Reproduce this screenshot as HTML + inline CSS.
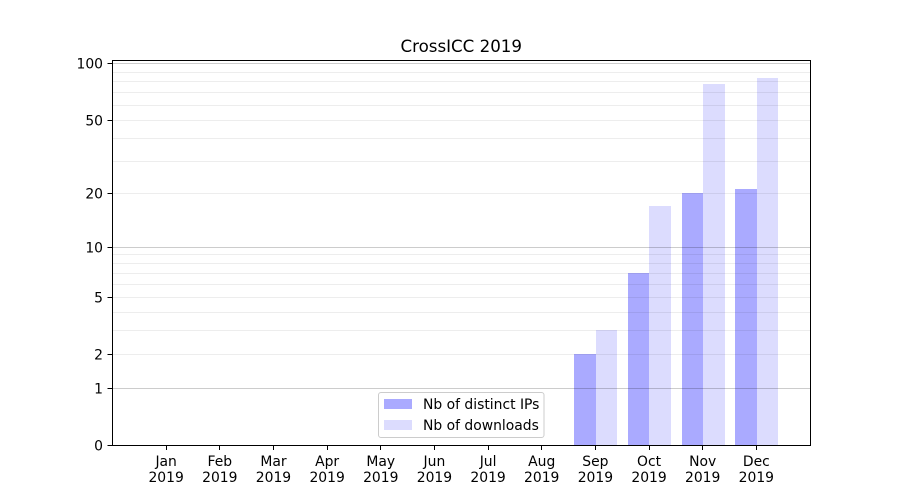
<!DOCTYPE html>
<html><head><meta charset="utf-8"><style>
html,body{margin:0;padding:0;background:#fff;}
svg{display:block;}
text{font-family:"DejaVu Sans","Liberation Sans",sans-serif;fill:#000;}
</style></head><body>
<svg width="900" height="500" viewBox="0 0 900 500" xmlns="http://www.w3.org/2000/svg">
<rect x="0" y="0" width="900" height="500" fill="#fff"/>
<!-- bars -->
<g shape-rendering="crispEdges">
<rect x="574" y="354" width="22" height="91" fill="#aaaaff"/>
<rect x="596" y="330" width="21" height="115" fill="#dcdcfe"/>
<rect x="628" y="273" width="21" height="172" fill="#aaaaff"/>
<rect x="649" y="206" width="22" height="239" fill="#dcdcfe"/>
<rect x="682" y="193" width="21" height="252" fill="#aaaaff"/>
<rect x="703" y="84" width="22" height="361" fill="#dcdcfe"/>
<rect x="735" y="189" width="22" height="256" fill="#aaaaff"/>
<rect x="757" y="78" width="21" height="367" fill="#dcdcfe"/>
</g>
<!-- minor grid -->
<g stroke="#000" stroke-opacity="0.07" stroke-width="1">
<line x1="113" x2="810" y1="354.5" y2="354.5"/>
<line x1="113" x2="810" y1="330.5" y2="330.5"/>
<line x1="113" x2="810" y1="312.5" y2="312.5"/>
<line x1="113" x2="810" y1="297.5" y2="297.5"/>
<line x1="113" x2="810" y1="284.5" y2="284.5"/>
<line x1="113" x2="810" y1="273.5" y2="273.5"/>
<line x1="113" x2="810" y1="263.5" y2="263.5"/>
<line x1="113" x2="810" y1="254.5" y2="254.5"/>
<line x1="113" x2="810" y1="193.5" y2="193.5"/>
<line x1="113" x2="810" y1="161.5" y2="161.5"/>
<line x1="113" x2="810" y1="138.5" y2="138.5"/>
<line x1="113" x2="810" y1="120.5" y2="120.5"/>
<line x1="113" x2="810" y1="105.5" y2="105.5"/>
<line x1="113" x2="810" y1="92.5" y2="92.5"/>
<line x1="113" x2="810" y1="81.5" y2="81.5"/>
<line x1="113" x2="810" y1="72.5" y2="72.5"/>
</g>
<!-- major grid -->
<g stroke="#000" stroke-opacity="0.2" stroke-width="1">
<line x1="113" x2="810" y1="388.5" y2="388.5"/>
<line x1="113" x2="810" y1="247.5" y2="247.5"/>
<line x1="113" x2="810" y1="63.5" y2="63.5"/>
</g>
<!-- axes frame -->
<rect x="112.5" y="60.5" width="698" height="385" fill="none" stroke="#000" stroke-width="1"/>
<!-- y ticks -->
<g stroke="#000" stroke-width="1">
<line x1="107.5" x2="112.5" y1="445.5" y2="445.5"/>
<line x1="107.5" x2="112.5" y1="388.5" y2="388.5"/>
<line x1="107.5" x2="112.5" y1="354.5" y2="354.5"/>
<line x1="107.5" x2="112.5" y1="297.5" y2="297.5"/>
<line x1="107.5" x2="112.5" y1="247.5" y2="247.5"/>
<line x1="107.5" x2="112.5" y1="193.5" y2="193.5"/>
<line x1="107.5" x2="112.5" y1="120.5" y2="120.5"/>
<line x1="107.5" x2="112.5" y1="63.5" y2="63.5"/>
</g>
<g font-size="13.9" text-anchor="end">
<text x="103" y="450.5">0</text>
<text x="103" y="393.5">1</text>
<text x="103" y="359.5">2</text>
<text x="103" y="302.5">5</text>
<text x="103" y="252.5">10</text>
<text x="103" y="198.5">20</text>
<text x="103" y="125.5">50</text>
<text x="103" y="68.5">100</text>
</g>
<!-- x ticks -->
<g stroke="#000" stroke-width="1">
<line x1="166.5" x2="166.5" y1="445.5" y2="450"/>
<line x1="219.5" x2="219.5" y1="445.5" y2="450"/>
<line x1="273.5" x2="273.5" y1="445.5" y2="450"/>
<line x1="327.5" x2="327.5" y1="445.5" y2="450"/>
<line x1="380.5" x2="380.5" y1="445.5" y2="450"/>
<line x1="434.5" x2="434.5" y1="445.5" y2="450"/>
<line x1="488.5" x2="488.5" y1="445.5" y2="450"/>
<line x1="541.5" x2="541.5" y1="445.5" y2="450"/>
<line x1="595.5" x2="595.5" y1="445.5" y2="450"/>
<line x1="649.5" x2="649.5" y1="445.5" y2="450"/>
<line x1="702.5" x2="702.5" y1="445.5" y2="450"/>
<line x1="756.5" x2="756.5" y1="445.5" y2="450"/>
</g>
<g font-size="13.9" text-anchor="middle">
<text x="166.15" y="466">Jan</text><text x="166.15" y="482">2019</text>
<text x="219.81" y="466">Feb</text><text x="219.81" y="482">2019</text>
<text x="273.46" y="466">Mar</text><text x="273.46" y="482">2019</text>
<text x="327.12" y="466">Apr</text><text x="327.12" y="482">2019</text>
<text x="380.77" y="466">May</text><text x="380.77" y="482">2019</text>
<text x="434.42" y="466">Jun</text><text x="434.42" y="482">2019</text>
<text x="488.08" y="466">Jul</text><text x="488.08" y="482">2019</text>
<text x="541.73" y="466">Aug</text><text x="541.73" y="482">2019</text>
<text x="595.39" y="466">Sep</text><text x="595.39" y="482">2019</text>
<text x="649.04" y="466">Oct</text><text x="649.04" y="482">2019</text>
<text x="702.69" y="466">Nov</text><text x="702.69" y="482">2019</text>
<text x="756.35" y="466">Dec</text><text x="756.35" y="482">2019</text>
</g>
<!-- title -->
<text x="461.25" y="52" font-size="16.67" text-anchor="middle">CrossICC 2019</text>
<!-- legend -->
<rect x="378.5" y="392.5" width="165.5" height="45" rx="2.5" ry="2.5" fill="#fff" fill-opacity="0.8" stroke="#cccccc" stroke-width="1"/>
<rect x="384" y="399" width="28" height="10" fill="#aaaaff"/>
<rect x="384" y="420" width="28" height="10" fill="#dcdcfe"/>
<g font-size="13.9">
<text x="423" y="409">Nb of distinct IPs</text>
<text x="423" y="430">Nb of downloads</text>
</g>
</svg>
</body></html>
